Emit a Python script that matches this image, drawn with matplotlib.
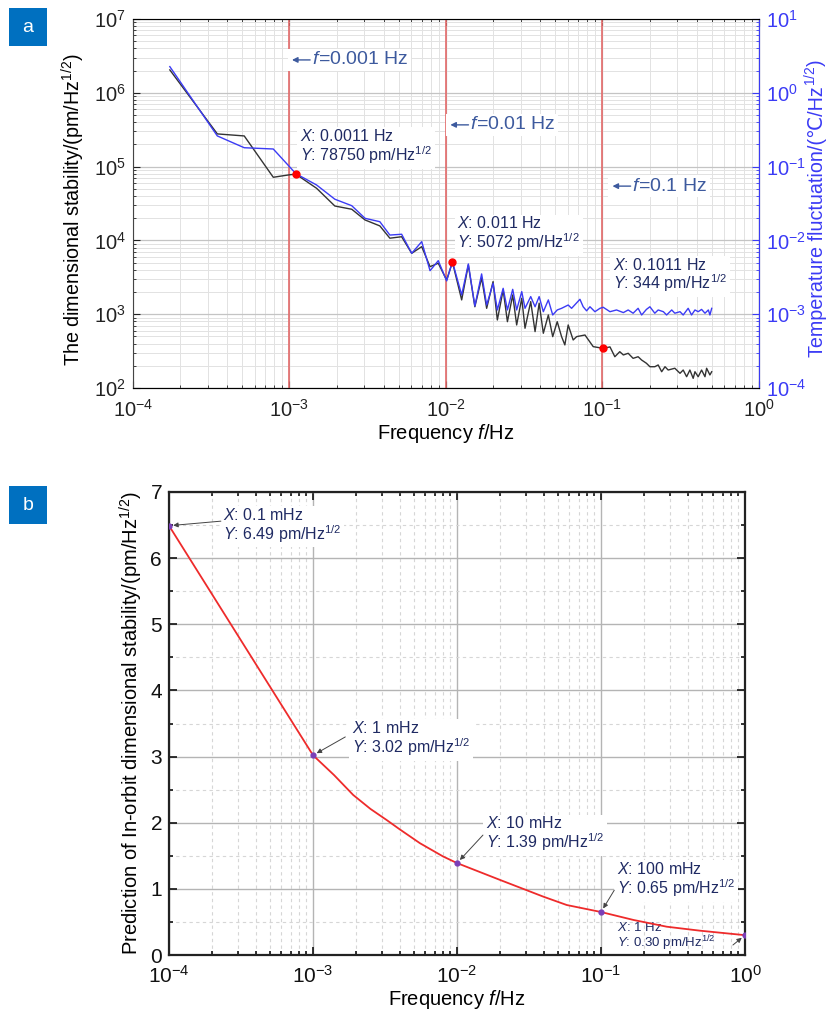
"""Dimensional stability spectrum (a) and in-orbit prediction (b)."""

import matplotlib
import numpy as np

matplotlib.use("Agg")
import matplotlib.pyplot as plt
from matplotlib.patches import Rectangle
from matplotlib.ticker import LogLocator, MultipleLocator, NullFormatter
from matplotlib.transforms import IdentityTransform

matplotlib.rcParams["font.family"] = ["Liberation Sans", "DejaVu Sans"]
matplotlib.rcParams["mathtext.fontset"] = "custom"
matplotlib.rcParams["mathtext.rm"] = "Liberation Sans"
matplotlib.rcParams["mathtext.it"] = "Liberation Sans:italic"
matplotlib.rcParams["mathtext.bf"] = "Liberation Sans:bold"

# ---- panel a: measured dimensional stability (pm/Hz^1/2)
dim_f = [1.72e-4, 3.46e-4, 5.14e-4, 7.88e-4, 1.01e-3, 1.1e-3, 1.49e-3, 1.95e-3, 2.5e-3,
         3.04e-3, 3.78e-3, 4.38e-3, 5.21e-3, 6.04e-3, 7.0e-3, 7.91e-3, 8.93e-3, 1.01e-2,
         1.1e-2, 1.26e-2, 1.39e-2, 1.53e-2, 1.69e-2, 1.82e-2, 2.0e-2, 2.13e-2, 2.32e-2,
         2.47e-2, 2.67e-2, 2.83e-2, 3.05e-2, 3.2e-2, 3.48e-2, 3.71e-2, 3.94e-2, 4.19e-2,
         4.51e-2, 4.81e-2, 5.14e-2, 5.48e-2, 5.75e-2, 6.04e-2, 6.5e-2, 6.84e-2, 7.73e-2,
         8.73e-2, 0.1011, 0.1117, 0.120, 0.129, 0.136, 0.146, 0.157, 0.169, 0.178, 0.191,
         0.201, 0.216, 0.227, 0.239, 0.251, 0.263, 0.290, 0.313, 0.328, 0.345, 0.362,
         0.380, 0.390, 0.409, 0.430, 0.452, 0.463, 0.486, 0.499]
dim_v = [2.04e6, 2.77e5, 2.6e5, 7.16e4, 7.76e4, 7.875e4, 5.08e4, 2.92e4, 2.64e4,
         1.89e4, 1.57e4, 1.07e4, 1.12e4, 6.68e3, 8.22e3, 4.4e3, 4.9e3, 2.9e3,
         5.072e3, 1.56e3, 4.64e3, 1.26e3, 3.1e3, 1.2e3, 2.76e3, 834, 2.13e3,
         791, 1.82e3, 714, 1.64e3, 644, 1.48e3, 580, 1.41e3, 551,
         975, 496, 791, 496, 383, 714, 447, 496, 522,
         363, 344, 360, 265, 310, 280, 295, 252, 265, 239, 216,
         194, 194, 205, 166, 194, 175, 185, 158, 175, 142, 175,
         135, 166, 142, 175, 142, 185, 150, 166]

# temperature fluctuation (degC/Hz^1/2), right axis
temp_f = [1.72e-4, 3.46e-4, 5.14e-4, 7.88e-4, 1.1e-3, 1.49e-3, 1.95e-3, 2.5e-3, 3.04e-3,
          3.78e-3, 4.38e-3, 5.21e-3, 6.04e-3, 7.0e-3, 7.91e-3, 8.93e-3, 1.01e-2, 1.1e-2,
          1.26e-2, 1.39e-2, 1.53e-2, 1.69e-2, 1.82e-2, 2.0e-2, 2.13e-2, 2.32e-2, 2.47e-2,
          2.67e-2, 2.83e-2, 3.05e-2, 3.2e-2, 3.48e-2, 3.71e-2, 3.94e-2, 4.19e-2, 4.51e-2,
          4.81e-2, 5.14e-2, 5.48e-2, 6.04e-2, 6.35e-2, 7.18e-2, 7.53e-2, 7.92e-2, 8.32e-2,
          8.95e-2, 9.64e-2, 0.1011, 0.1117, 0.123, 0.136, 0.146, 0.157, 0.169, 0.178,
          0.191, 0.201, 0.216, 0.227, 0.245, 0.257, 0.277, 0.290, 0.313, 0.328, 0.353,
          0.371, 0.390, 0.409, 0.430, 0.452, 0.475, 0.486, 0.499]
temp_v = [2.26, 0.26, 0.18, 0.173, 0.080, 0.0563, 0.0361, 0.0295, 0.0199,
          0.0179, 0.0118, 0.0121, 0.00668, 0.0096, 0.00388, 0.00531, 0.00282, 0.00514,
          0.00182, 0.00479, 0.00129, 0.00351, 0.00133, 0.00262, 0.00114, 0.00224, 0.00114,
          0.00217, 0.00114, 0.00202, 0.00120, 0.00173, 0.00126, 0.00173, 0.00108, 0.00156,
          0.000975, 0.00114, 0.00120, 0.00133, 0.00120, 0.00159, 0.00126, 0.00111, 0.00126,
          0.00108, 0.00120, 0.00124, 0.00108, 0.00114, 0.00105, 0.00114, 0.00103, 0.00120,
          0.000975, 0.00116, 0.00126, 0.00103, 0.00114, 0.00108, 0.000975, 0.00114,
          0.00103, 0.00108, 0.000975, 0.00120, 0.000975, 0.00114, 0.00108, 0.00116,
          0.00103, 0.00114, 0.000975, 0.00120]

mark_f = [1e-3, 1e-2, 1e-1]
mark_labels = ["0.001", "0.01", "0.1"]
pick_f = [0.0011, 0.011, 0.1011]
pick_v = [78750, 5072, 344]
pick_xlabels = ["0.0011", "0.011", "0.1011"]

# ---- panel b: predicted in-orbit stability (pm/Hz^1/2)
pred_f = [1e-4, 1e-3, 1.4e-3, 1.9e-3, 2.5e-3, 3.25e-3, 4.0e-3, 5.53e-3, 8.0e-3, 1e-2,
          1.99e-2, 3.98e-2, 5.78e-2, 0.1, 0.168, 0.286, 0.486, 1.0]
pred_v = [6.49, 3.02, 2.72, 2.42, 2.21, 2.04, 1.90, 1.69, 1.49, 1.39,
          1.135, 0.882, 0.756, 0.65, 0.53, 0.428, 0.368, 0.30]
dot_f = [1e-4, 1e-3, 1e-2, 1e-1, 1.0]
dot_v = [6.49, 3.02, 1.39, 0.65, 0.30]
dot_x = ["0.1 mHz", "1 mHz", "10 mHz", "100 mHz", "1 Hz"]

NAVY = "#1f2a63"
BLUE = "#3b3bf5"
STEEL = "#3d5a9e"
WHITE_BOX = dict(facecolor="white", edgecolor="none", pad=2)


def badge(fig, y0, letter):
    fig.patches.append(Rectangle((0.0109, y0), 0.0458, 0.0377, transform=fig.transFigure,
                                 facecolor="#0070c0", edgecolor="none"))
    fig.text(0.0338, y0 + 0.0188, letter, color="white", fontsize=14,
             ha="center", va="center")


def log_ticks(ax, axis):
    loc = ax.xaxis if axis == "x" else ax.yaxis
    loc.set_major_locator(LogLocator(base=10, numticks=12))
    loc.set_minor_locator(LogLocator(base=10, subs=np.arange(2, 10), numticks=12))
    loc.set_minor_formatter(NullFormatter())


def right_label(fig, base_x, center_y):
    # ℃ is not in the mathtext font, so the label is set as plain text + a mathtext tail
    kw = dict(transform=IdentityTransform(), rotation=90, rotation_mode="anchor",
              ha="left", va="baseline", fontsize=14.2, color=BLUE)
    t1 = fig.text(base_x, 0, "Temperature fluctuation/(\u2103/Hz", **kw)
    t2 = fig.text(base_x, 0, "$^{1/2}$)", **kw)
    r = fig.canvas.get_renderer()
    h1 = t1.get_window_extent(r).height
    h2 = t2.get_window_extent(r).height
    y0 = center_y - (h1 + h2) / 2
    t1.set_position((base_x, y0))
    t2.set_position((base_x, y0 + h1))


def panel_a(fig):
    ax1 = fig.add_axes([0.1604, 0.6155, 0.7551, 0.3657])
    ax1.set_xscale("log")
    ax1.set_yscale("log")
    ax1.set_xlim(1e-4, 1)
    ax1.set_ylim(1e2, 1e7)
    log_ticks(ax1, "x")
    log_ticks(ax1, "y")
    ax1.grid(which="major", color="#c4c4c4", lw=0.9)
    ax1.grid(which="minor", color="#e2e2e2", lw=0.7)
    ax1.set_axisbelow(True)

    for f in mark_f:
        ax1.axvline(f, color="#e46a6a", lw=1.2, zorder=2)
    ax1.plot(dim_f, dim_v, color="#333333", lw=1.0, zorder=3)

    ax1.set_xlabel("Frequency $f$/Hz", fontsize=14.5, labelpad=1)
    ax1.set_ylabel("The dimensional stability/(pm/Hz$^{1/2}$)", fontsize=14.2)
    ax1.yaxis.set_label_coords(-0.0735, 0.482)
    ax1.tick_params(which="both", direction="in", top=True, labelsize=14.5, colors="#222222")
    ax1.tick_params(axis="x", pad=8)
    ax1.tick_params(axis="y", pad=5)
    ax1.tick_params(which="major", length=5)
    ax1.tick_params(which="minor", length=2.5)
    for s in ["left", "bottom"]:
        ax1.spines[s].set_color("#444444")
    ax1.spines["top"].set_color("#999999")

    ax2 = ax1.twinx()
    ax2.set_yscale("log")
    ax2.set_ylim(1e-4, 1e1)
    log_ticks(ax2, "y")
    ax2.plot(temp_f, temp_v, color=BLUE, lw=1.0, zorder=3)
    ax2.tick_params(which="both", direction="in", labelsize=14.5, colors=BLUE, pad=5)
    ax2.tick_params(which="major", length=5)
    ax2.tick_params(which="minor", length=2.5)
    ax2.spines["right"].set_color(BLUE)
    ax2.spines["left"].set_visible(False)

    # picked points on the dimensional curve, drawn in ax1 data space
    ax2.plot(pick_f, pick_v, "o", color="red", ms=5, transform=ax1.transData, zorder=5)

    for x, y, lab in zip([0.252, 0.505, 0.764], [0.889, 0.713, 0.547], mark_labels):
        ax2.text(x, y, "    $f$=" + lab + " Hz", transform=ax1.transAxes,
                 fontsize=14, color=STEEL, ha="left", va="center", bbox=WHITE_BOX,
                 zorder=6)
        ax2.annotate("", xy=(x + 0.002, y), xycoords=ax1.transAxes,
                     xytext=(x + 0.031, y), textcoords=ax1.transAxes,
                     arrowprops=dict(arrowstyle="-|>", color=STEEL, lw=1.0,
                                     mutation_scale=8, shrinkA=0, shrinkB=0), zorder=7)
    for x, y, xl, v in zip([0.267, 0.518, 0.767], [0.653, 0.417, 0.305], pick_xlabels, pick_v):
        ax2.text(x, y, "$X$: " + xl + " Hz\n$Y$: " + str(v) + " pm/Hz$^{1/2}$",
                 transform=ax1.transAxes, fontsize=11.5, color=NAVY, ha="left",
                 va="center", linespacing=1.0, bbox=WHITE_BOX, zorder=6)


def panel_b(fig):
    ax = fig.add_axes([0.2039, 0.0535, 0.6948, 0.4589])
    ax.set_xscale("log")
    ax.set_xlim(1e-4, 1)
    ax.set_ylim(0, 7)
    log_ticks(ax, "x")
    ax.yaxis.set_major_locator(MultipleLocator(1))
    ax.yaxis.set_minor_locator(MultipleLocator(0.5))
    ax.grid(which="major", color="#b4b4b4", lw=1.0)
    ax.grid(which="minor", color="#d6d6d6", lw=0.8, ls=(0, (3, 3)))
    ax.set_axisbelow(True)

    ax.plot(pred_f, pred_v, color="#ee2b2b", lw=1.3, zorder=6)
    ax.plot(dot_f, dot_v, "o", color="#7a3fb8", ms=3.5, zorder=7)

    ax.set_xlabel("Frequency $f$/Hz", fontsize=14.5, labelpad=1)
    ax.set_ylabel("Prediction of In-orbit dimensional stability/(pm/Hz$^{1/2}$)",
                  fontsize=14.5, labelpad=4)
    ax.tick_params(which="both", direction="in", top=True, right=True, labelsize=15,
                   colors="#111111", width=1.2, pad=5)
    ax.tick_params(axis="x", pad=7)
    ax.tick_params(which="major", length=6)
    ax.tick_params(which="minor", length=3)
    for s in ax.spines.values():
        s.set_linewidth(1.6)
        s.set_color("#222222")

    text_pos = [(0.093, 0.927), (0.318, 0.4665), (0.550, 0.261), (0.777, 0.162), (0.777, 0.039)]
    arrow_from = [(0.090, 0.937), (0.306, 0.471), (0.545, 0.259), (0.773, 0.140), (0.979, 0.0216)]
    sizes = [11.5, 11.5, 11.5, 11.5, 9.5]
    for i in range(len(dot_f)):
        tx, ty = text_pos[i]
        box = WHITE_BOX if i < 4 else None
        ax.text(tx, ty, "$X$: " + dot_x[i] + "\n$Y$: %.2f pm/Hz$^{1/2}$" % dot_v[i],
                transform=ax.transAxes, fontsize=sizes[i], color=NAVY, ha="left",
                va="center", linespacing=1.0, bbox=box, zorder=5)
        ax.annotate("", xy=(dot_f[i], dot_v[i]), xycoords="data",
                    xytext=arrow_from[i], textcoords="axes fraction",
                    arrowprops=dict(arrowstyle="-|>", color="#444444", lw=0.7,
                                    mutation_scale=7, shrinkA=0, shrinkB=3), zorder=6)


def main():
    fig = plt.figure(figsize=(8.29, 10.09), dpi=100)
    panel_a(fig)
    panel_b(fig)
    right_label(fig, 823, 1009 - 208)
    badge(fig, 0.9544, "a")
    badge(fig, 0.4807, "b")
    fig.savefig("out.png", dpi=100)


if __name__ == "__main__":
    main()
